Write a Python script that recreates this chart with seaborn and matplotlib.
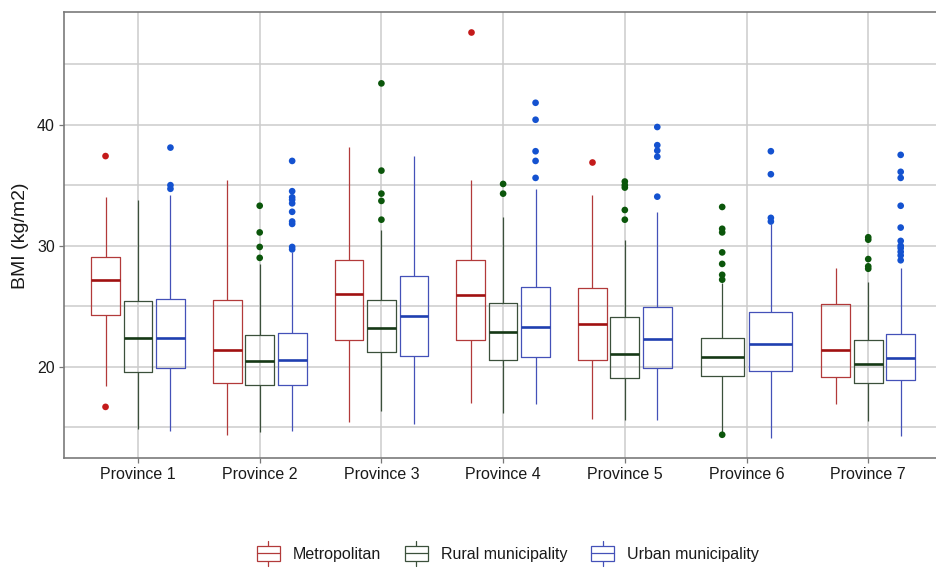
import pandas as pd
import numpy as np
import seaborn as sns
import matplotlib.pyplot as plt
from matplotlib.colors import to_hex
from matplotlib.legend_handler import HandlerBase
from matplotlib.patches import Rectangle
from matplotlib.lines import Line2D

# -----------------------------
# DATA
# -----------------------------

provinces = ["Province 1", "Province 2", "Province 3", "Province 4",
             "Province 5", "Province 6", "Province 7"]
areas = ["Metropolitan", "Rural municipality", "Urban municipality"]

# Metropolitan (no data for Province 6)
metro_lo = [18.4, 14.35, 15.45, 17.05, 15.7, None, 16.9]
metro_q1 = [24.3, 18.65, 22.2, 22.2, 20.6, None, 19.2]
metro_med = [27.2, 21.4, 26.0, 25.9, 23.55, None, 21.4]
metro_q3 = [29.1, 25.5, 28.8, 28.8, 26.5, None, 25.2]
metro_hi = [34.0, 35.4, 38.15, 35.4, 34.2, None, 28.2]
metro_out = [[37.4, 16.7], [], [], [47.6], [36.9], [], []]

# Rural municipality
rural_lo = [14.9, 14.6, 16.4, 16.2, 15.6, 14.5, 15.5]
rural_q1 = [19.6, 18.5, 21.2, 20.55, 19.05, 19.25, 18.65]
rural_med = [22.4, 20.5, 23.2, 22.9, 21.1, 20.8, 20.2]
rural_q3 = [25.4, 22.6, 25.5, 25.3, 24.15, 22.4, 22.2]
rural_hi = [33.8, 28.5, 31.3, 32.4, 30.5, 26.9, 27.0]
rural_out = [[], [33.3, 31.1, 29.9, 29.0],
             [43.4, 36.2, 34.3, 33.7, 32.15],
             [35.1, 34.3],
             [35.3, 35.0, 34.8, 32.95, 32.15],
             [33.2, 31.4, 31.1, 29.45, 28.5, 27.6, 27.2, 14.4],
             [30.7, 30.5, 28.9, 28.3, 28.1]]

# Urban municipality
urban_lo = [14.7, 14.7, 15.3, 16.9, 15.6, 14.15, 14.3]
urban_q1 = [19.9, 18.5, 20.9, 20.8, 19.9, 19.7, 18.9]
urban_med = [22.4, 20.6, 24.2, 23.3, 22.3, 21.9, 20.75]
urban_q3 = [25.6, 22.8, 27.5, 26.6, 24.95, 24.5, 22.7]
urban_hi = [34.2, 29.45, 37.4, 34.65, 32.8, 31.8, 28.2]
urban_out = [[38.1, 35.0, 34.7],
             [37.0, 34.5, 34.0, 33.8, 33.5, 32.8, 32.0, 31.8, 29.9, 29.7],
             [],
             [41.8, 40.4, 37.8, 37.0, 35.6],
             [39.8, 38.3, 37.85, 37.35, 34.05],
             [37.8, 35.9, 32.3, 32.0],
             [37.5, 36.1, 35.6, 33.3, 31.5, 30.4, 30.0, 29.8, 29.5, 29.2, 28.8]]

line_colors = {"Metropolitan": "#b23a3a",
               "Rural municipality": "#3b503b",
               "Urban municipality": "#4451b8"}
median_colors = {"Metropolitan": "#a01010",
                 "Rural municipality": "#153815",
                 "Urban municipality": "#1f3fb0"}
point_colors = {"Metropolitan": "#c41a1a",
                "Rural municipality": "#0b560b",
                "Urban municipality": "#1452d0"}

# -----------------------------
# LONG TABLES
# -----------------------------

stats = {
    "Metropolitan": (metro_lo, metro_q1, metro_med, metro_q3, metro_hi),
    "Rural municipality": (rural_lo, rural_q1, rural_med, rural_q3, rural_hi),
    "Urban municipality": (urban_lo, urban_q1, urban_med, urban_q3, urban_hi),
}
outliers = {"Metropolitan": metro_out,
            "Rural municipality": rural_out,
            "Urban municipality": urban_out}

box_rows, out_rows = [], []
for area in areas:
    for i, prov in enumerate(provinces):
        five = [s[i] for s in stats[area]]
        if five[0] is None:
            continue
        box_rows += [(prov, area, v) for v in five]
        out_rows += [(prov, area, v) for v in outliers[area][i]]

box_df = pd.DataFrame(box_rows, columns=["province", "area", "bmi"])
out_df = pd.DataFrame(out_rows, columns=["province", "area", "bmi"])

# -----------------------------
# PLOT
# -----------------------------

sns.set_theme(style="whitegrid")
plt.rcParams["font.family"] = ["Liberation Sans", "DejaVu Sans"]

fig, ax = plt.subplots(figsize=(9.37, 5.68), dpi=100)
fig.subplots_adjust(left=0.0683, right=1.0, top=0.978, bottom=0.193)

# Province 6 has only two groups, so it is dodged on its own (like ggplot)
box_kws = dict(x="province", y="bmi", order=provinces, whis=(0, 100),
               fill=False, width=0.8, gap=0.115, linewidth=0.9,
               showcaps=False, showfliers=False, medianprops={"linewidth": 1.9},
               legend=False, ax=ax)
in_b = box_df["province"] != "Province 6"
sns.boxplot(data=box_df[in_b], hue="area", hue_order=areas,
            palette=line_colors, **box_kws)
sns.boxplot(data=box_df[~in_b], hue="area", hue_order=areas[1:],
            palette=line_colors, **box_kws)

# darker medians, as in the reference
hex_to_area = {to_hex(c): a for a, c in line_colors.items()}
for cont in ax.containers:
    if hasattr(cont, "medians") and len(cont.boxes):
        area = hex_to_area.get(to_hex(cont.boxes[0].get_color()))
        if area:
            for m in cont.medians:
                m.set_color(median_colors[area])

strip_kws = dict(x="province", y="bmi", order=provinces, dodge=True,
                 jitter=False, size=4.8, linewidth=0, legend=False, ax=ax)
in_o = out_df["province"] != "Province 6"
sns.stripplot(data=out_df[in_o], hue="area", hue_order=areas,
              palette=point_colors, **strip_kws)
sns.stripplot(data=out_df[~in_o], hue="area", hue_order=areas[1:],
              palette=point_colors, **strip_kws)

# -----------------------------
# AXES STYLE
# -----------------------------

ax.set_xlim(-0.608, 6.565)
ax.set_ylim(12.45, 49.25)
ax.set_yticks([20, 30, 40])
ax.set_yticks([15, 25, 35, 45], minor=True)
ax.set_xlabel("")
ax.set_ylabel("BMI (kg/m2)", fontsize=14, color="#1a1a1a", labelpad=6)

ax.grid(True, which="major", color="#cccccc", linewidth=1.1)
ax.grid(True, which="minor", axis="y", color="#cccccc", linewidth=1.1)
ax.xaxis.grid(True)
ax.set_axisbelow(True)

ax.tick_params(axis="both", which="major", bottom=True, left=True,
               length=3.5, width=0.9, color="#777777",
               labelsize=11.5, labelcolor="#1a1a1a", pad=3)
ax.tick_params(which="minor", length=0)
for s in ax.spines.values():
    s.set_color("#7a7a7a")
    s.set_linewidth(1.2)
ax.spines["right"].set_visible(False)

# -----------------------------
# LEGEND WITH BOX-SHAPED KEYS
# -----------------------------

class BoxKey(HandlerBase):
    def create_artists(self, legend, orig_handle, xdescent, ydescent,
                       width, height, fontsize, trans):
        c = orig_handle.get_edgecolor()
        x0, y0 = -xdescent, -ydescent
        mid = x0 + width / 2
        stem = Line2D([mid, mid], [y0 - 0.35 * height, y0 + 1.35 * height],
                      color=c, lw=0.9, transform=trans)
        box = Rectangle((x0, y0), width, height, facecolor="white",
                        edgecolor=c, lw=0.9, transform=trans)
        med = Line2D([x0, x0 + width], [y0 + height / 2] * 2,
                     color=c, lw=0.9, transform=trans)
        return [stem, box, med]

handles = [Rectangle((0, 0), 0, 0, edgecolor=line_colors[a], facecolor="none")
           for a in areas]
fig.legend(handles, areas, handler_map={Rectangle: BoxKey()},
           loc="center", bbox_to_anchor=(0.542, 0.025), ncol=3,
           frameon=False, fontsize=11.5, handlelength=1.45, handleheight=1.05,
           handletextpad=0.8, columnspacing=1.5, labelcolor="#1a1a1a")

fig.savefig("out.png", dpi=100)
print("Saved: out.png")
